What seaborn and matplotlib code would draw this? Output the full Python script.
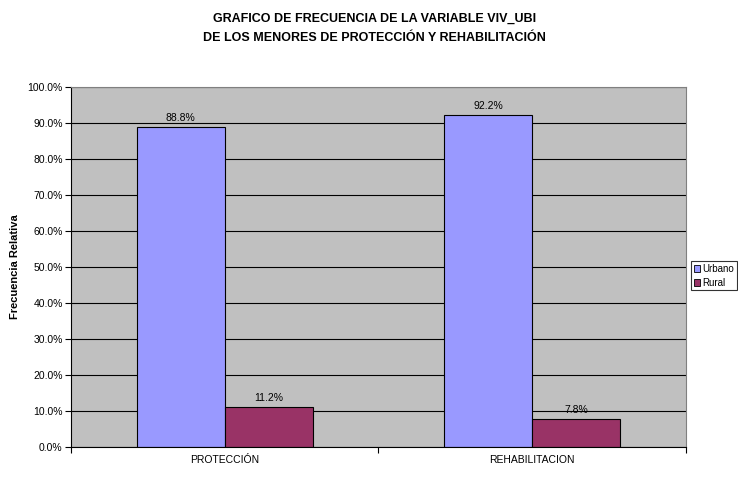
import matplotlib
matplotlib.use("Agg")
import matplotlib.pyplot as plt
import seaborn as sns
import pandas as pd
from matplotlib.ticker import FuncFormatter, FixedLocator
from matplotlib.patches import Patch

categories = ["PROTECCIÓN", "REHABILITACION"]
series = ["Urbano", "Rural"]
urbano = [88.8, 92.2]
rural = [11.2, 7.8]
colors = {"Urbano": "#9999FF", "Rural": "#993366"}

df = pd.DataFrame({
    "grupo": categories * 2,
    "ubicacion": ["Urbano"] * 2 + ["Rural"] * 2,
    "valor": urbano + rural,
})

sns.set_theme(style="white")
plt.rcParams["font.family"] = ["Liberation Sans", "DejaVu Sans"]
plt.rcParams["text.color"] = "black"
plt.rcParams["xtick.color"] = "black"
plt.rcParams["ytick.color"] = "black"
plt.rcParams["axes.labelcolor"] = "black"

fig = plt.figure(figsize=(7.38, 4.97), dpi=100)
ax = fig.add_axes([0.0962, 0.1006, 0.8333, 0.7244])
ax.set_facecolor("#C0C0C0")

sns.barplot(data=df, x="grupo", y="valor", hue="ubicacion", order=categories,
            hue_order=series, palette=colors, width=0.573, edgecolor="black",
            linewidth=0.8, saturation=1, ax=ax, legend=False)

for cont in ax.containers:
    ax.bar_label(cont, labels=[f"{v:.1f}%" for v in cont.datavalues],
                 padding=3, fontsize=7.5, color="black")

ax.set_xlim(-0.5, 1.5)
ax.set_ylim(0, 100)
ax.yaxis.set_major_locator(FixedLocator([i * 10 for i in range(11)]))
ax.yaxis.set_major_formatter(FuncFormatter(lambda v, p: f"{v:.1f}%"))
ax.grid(axis="y", color="black", linewidth=0.8)
ax.set_axisbelow(True)

ax.set_xlabel("")
ax.set_ylabel("Frecuencia Relativa", fontsize=8, fontweight="bold", labelpad=5)
ax.tick_params(axis="y", which="major", length=4, width=0.8, color="black",
               labelsize=7.5, pad=2, direction="out", left=True)
ax.tick_params(axis="x", which="major", length=0, labelsize=7.5, pad=6)
ax.xaxis.set_minor_locator(FixedLocator([-0.5, 0.5, 1.5]))
ax.tick_params(axis="x", which="minor", length=4, width=0.8, color="black",
               direction="out", bottom=True)

for side in ["top", "right"]:
    ax.spines[side].set_visible(True)
    ax.spines[side].set_color("#808080")
    ax.spines[side].set_linewidth(0.8)
for side in ["left", "bottom"]:
    ax.spines[side].set_color("black")
    ax.spines[side].set_linewidth(0.8)

fig.text(0.508, 0.962, "GRAFICO DE FRECUENCIA DE LA VARIABLE VIV_UBI",
         ha="center", va="center", fontsize=9, fontweight="bold")
fig.text(0.508, 0.924, "DE LOS MENORES DE PROTECCIÓN Y REHABILITACIÓN",
         ha="center", va="center", fontsize=9, fontweight="bold")

handles = [Patch(facecolor=colors[s], edgecolor="black", linewidth=0.6, label=s)
           for s in series]
leg = fig.legend(handles=handles, loc="center left", bbox_to_anchor=(0.936, 0.445),
                 fontsize=7, frameon=True, fancybox=False, edgecolor="black",
                 handlelength=0.7, handleheight=0.7, handletextpad=0.2,
                 borderpad=0.3, labelspacing=0.35, borderaxespad=0)
leg.get_frame().set_linewidth(0.8)

fig.savefig("out.png", dpi=100)
